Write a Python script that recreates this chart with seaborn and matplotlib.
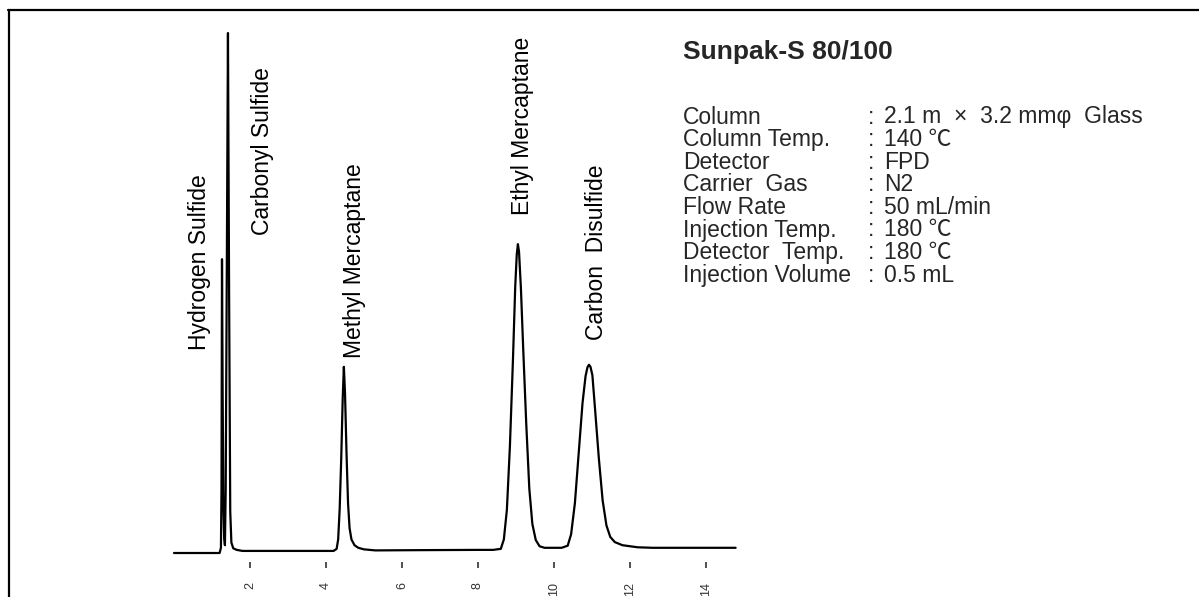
import numpy as np
import pandas as pd
import matplotlib.pyplot as plt
import seaborn as sns
from matplotlib.lines import Line2D

# chromatogram trace: retention time (min) and detector signal (rel.)
time_min = [0.0, 0.6, 1.2, 1.235, 1.25, 1.263, 1.28, 1.30, 1.32, 1.34,
            1.36, 1.39, 1.42, 1.45, 1.48, 1.51, 1.56, 1.65, 1.8, 2.5, 3.5, 4.2,
            4.28, 4.32, 4.36, 4.40, 4.44, 4.47, 4.50, 4.54, 4.58, 4.62, 4.67,
            4.75, 4.85, 5.0, 5.3, 6.5, 8.0, 8.4,
            8.6, 8.68, 8.76, 8.84, 8.92, 8.98, 9.02, 9.05, 9.08, 9.13, 9.19,
            9.27, 9.35, 9.43, 9.52, 9.62, 9.75, 9.9, 10.2,
            10.36, 10.45, 10.55, 10.65, 10.75, 10.83, 10.88, 10.92, 10.96, 11.01,
            11.08, 11.18, 11.28, 11.38, 11.48, 11.6, 11.8, 12.2, 12.6, 13.2, 14.0, 14.78]
signal = [0.0, 0.0, 0.0, 1.0, 12.0, 56.5, 31.0, 9.0, 3.0, 1.5,
          12.0, 55.0, 100.0, 50.0, 8.0, 2.0, 0.9, 0.6, 0.4, 0.4, 0.4, 0.4,
          0.8, 2.6, 8.5, 18.0, 29.8, 35.8, 30.8, 19.2, 9.6, 4.8, 2.6,
          1.5, 1.0, 0.7, 0.5, 0.55, 0.6, 0.6,
          0.8, 2.6, 8.3, 20.6, 37.2, 51.3, 57.4, 59.4, 57.9, 50.8, 39.2,
          24.8, 12.4, 5.6, 2.5, 1.3, 1.0, 1.0, 1.0,
          1.4, 3.6, 9.6, 19.2, 28.8, 34.0, 35.7, 36.2, 35.8, 34.2,
          27.7, 18.2, 10.1, 5.3, 3.1, 2.1, 1.5, 1.1, 1.0, 1.0, 1.0, 1.0]

# peak labels: text, time of label centre, signal at label bottom
peak_names = ["Hydrogen Sulfide", "Carbonyl Sulfide", "Methyl Mercaptane",
              "Ethyl Mercaptane", "Carbon  Disulfide"]
label_t = [0.68, 2.32, 4.76, 9.18, 11.13]
label_y = [39.0, 61.2, 37.5, 65.0, 41.0]

x_ticks = [2, 4, 6, 8, 10, 12, 14]

title = "Sunpak-S 80/100"
cond_names = ["Column", "Column Temp.", "Detector", "Carrier  Gas", "Flow Rate",
              "Injection Temp.", "Detector  Temp.", "Injection Volume"]
cond_values = ["2.1 m  ×  3.2 mmφ  Glass", "140 ℃", "FPD", "N2", "50 mL/min",
               "180 ℃", "180 ℃", "0.5 mL"]

sns.set_theme(style="white")
fonts = ["Liberation Sans", "Noto Sans CJK JP", "DejaVu Sans"]
plt.rcParams["font.family"] = fonts

W, H = 1199, 597
fig = plt.figure(figsize=(W / 100, H / 100), dpi=100)
ax = fig.add_axes([151.2 / W, (H - 562) / H, (782 - 151.2) / W, (562 - 20) / H])

trace = pd.DataFrame({"time": time_min, "signal": signal})
sns.lineplot(data=trace, x="time", y="signal", color="black", lw=1.6, ax=ax, sort=False)

ax.set_xlim(-0.6, 16)
ax.set_ylim(-1.73, 102.5)
for s in ax.spines.values():
    s.set_visible(False)
ax.set_xlabel("")
ax.set_ylabel("")
ax.set_yticks([])
ax.set_xticks(x_ticks)
ax.set_xticklabels([str(t) for t in x_ticks], rotation=90, fontsize=9, color="#333333")
ax.tick_params(axis="x", bottom=True, length=4.5, width=1.2, color="#333333", pad=10)

for name, t, y in zip(peak_names, label_t, label_y):
    ax.text(t, y, name, rotation=90, ha="center", va="bottom", fontsize=16.5, color="black")

# condition block on the right
fig.text(683 / W, 1 - 52 / H, title, fontsize=19, fontweight="bold", va="center", ha="left")
for i, (n, v) in enumerate(zip(cond_names, cond_values)):
    yy = 1 - (117 + 22.6 * i) / H
    fig.text(683 / W, yy, n, fontsize=16.5, va="center", ha="left")
    fig.text(868 / W, yy, ":", fontsize=16.5, va="center", ha="left")
    fig.text(884 / W, yy, v, fontsize=16.5, va="center", ha="left")

# frame lines at top and left
fig.add_artist(Line2D([8 / W, 1.0], [1 - 10 / H, 1 - 10 / H], color="black", lw=1.6,
                      transform=fig.transFigure))
fig.add_artist(Line2D([9 / W, 9 / W], [0.0, 1 - 10 / H], color="black", lw=1.6,
                      transform=fig.transFigure))

fig.savefig("out.png", dpi=100)
